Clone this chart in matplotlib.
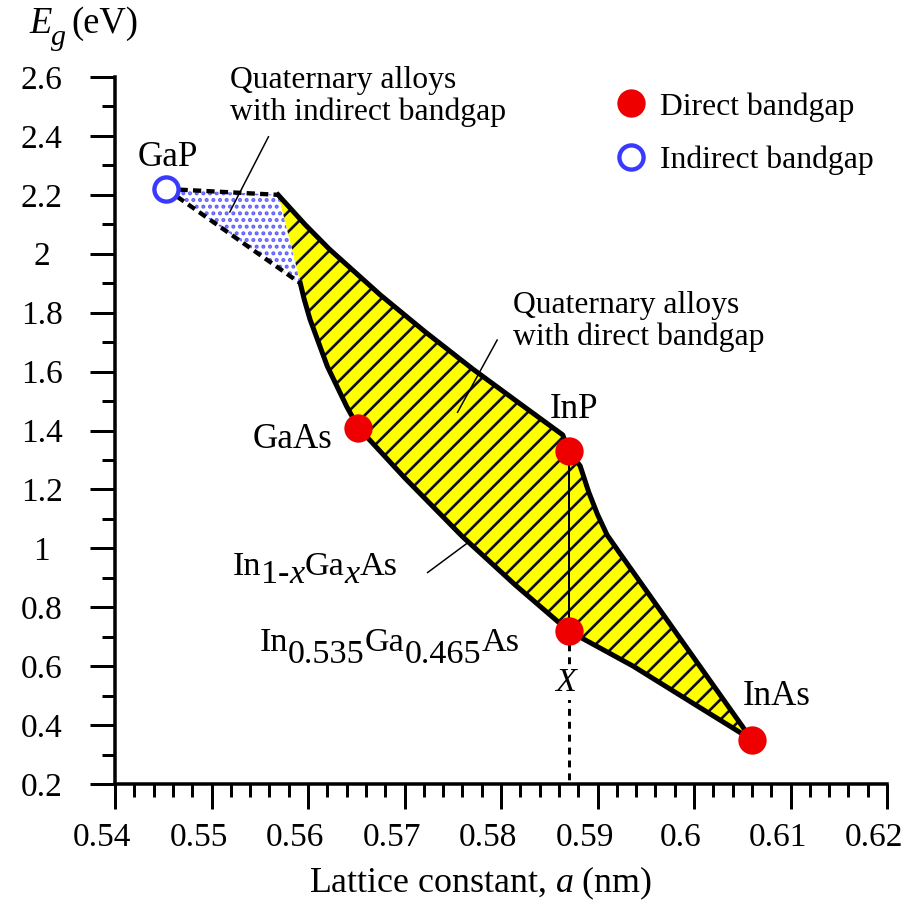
import numpy as np
import matplotlib.pyplot as plt
from matplotlib.ticker import MultipleLocator
from matplotlib.transforms import ScaledTranslation

plt.rcParams['font.family'] = 'Liberation Serif'
plt.rcParams['mathtext.fontset'] = 'custom'
plt.rcParams['mathtext.rm'] = 'Liberation Serif'
plt.rcParams['mathtext.it'] = 'Liberation Serif:italic'
plt.rcParams['hatch.linewidth'] = 1.6

# compounds: lattice constant a (nm), bandgap Eg (eV)
gap_a, gap_eg = [0.5453], [2.22]
direct_a = [0.5652, 0.5870, 0.5870, 0.6060]   # GaAs, InP, In0.535Ga0.465As, InAs
direct_eg = [1.41, 1.33, 0.72, 0.35]

# boundaries of the quaternary region
corner_a = [0.5569, 0.5592]          # where indirect part meets direct part
corner_eg = [2.20, 1.90]
upper_a = [0.5597, 0.5622, 0.5675, 0.5721, 0.5771, 0.5818, 0.5864]   # corner -> InP
upper_eg = [2.099, 2.016, 1.860, 1.736, 1.608, 1.495, 1.385]
right_a = [0.5882, 0.5891, 0.5900, 0.5910, 0.5923]   # InP -> InAs
right_eg = [1.280, 1.190, 1.115, 1.045, 0.984]
lower_a = [0.5996, 0.5937]   # InAs -> In0.535Ga0.465As
lower_eg = [0.480, 0.600]
ternary_a = [0.5815, 0.5760, 0.5700]  # In0.535Ga0.465As -> GaAs
ternary_eg = [0.875, 1.040, 1.240]
left_a = [0.5640, 0.5620, 0.5602, 0.5596]    # GaAs -> lower corner
left_eg = [1.482, 1.618, 1.778, 1.846]

# leader lines for the annotations
lead_indirect = ([0.5559, 0.5519], [2.397, 2.142])
lead_direct = ([0.5796, 0.5755], [1.707, 1.462])
lead_ternary = ([0.5724, 0.5766], [0.918, 1.020])

xticks = [0.54, 0.55, 0.56, 0.57, 0.58, 0.59, 0.60, 0.61, 0.62]
xlabels = ['0.54', '0.55', '0.56', '0.57', '0.58', '0.59', '0.6', '0.61', '0.62']
yticks = [0.2, 0.4, 0.6, 0.8, 1.0, 1.2, 1.4, 1.6, 1.8, 2.0, 2.2, 2.4, 2.6]
ylabels = ['0.2', '0.4', '0.6', '0.8', '1', '1.2', '1.4', '1.6', '1.8', '2', '2.2', '2.4', '2.6']

red = '#ee0000'
blue = '#3a3aff'

fig = plt.figure(figsize=(7.6, 7.575), dpi=120)
ax = fig.add_axes([0.1261, 0.1375, 0.8465, 0.7778])


def chain(x, y, pieces, size, transform=None):
    # text pieces side by side; dy (points) lowers a piece like a subscript
    s0, dy0, st0 = pieces[0][:3]
    prev = ax.text(x, y, s0, fontsize=size, style=st0, ha='left', va='baseline',
                   transform=transform if transform is not None else ax.transData)
    for p in pieces[1:]:
        s, dy, st = p[:3]
        sz = p[3] if len(p) > 3 else size
        dx = 3 if s.startswith('(') else 0
        prev = ax.annotate(s, xy=(1, 0), xycoords=prev, xytext=(dx, dy - dy0),
                           textcoords='offset points', fontsize=sz, style=st,
                           ha='left', va='bottom')
        dy0 = dy


# outline of the direct-gap region (open path, closed by the straight corner edge)
bd_a = ([corner_a[0]] + upper_a + [direct_a[1]] + right_a + [direct_a[3]]
        + lower_a + [direct_a[2]] + ternary_a + [direct_a[0]] + left_a + [corner_a[1]])
bd_eg = ([corner_eg[0]] + upper_eg + [direct_eg[1]] + right_eg + [direct_eg[3]]
         + lower_eg + [direct_eg[2]] + ternary_eg + [direct_eg[0]] + left_eg + [corner_eg[1]])

ax.fill(bd_a, bd_eg, facecolor='#ffff00', edgecolor='#111111', hatch='//', linewidth=0, zorder=1)
ax.plot(bd_a, bd_eg, color='black', lw=3, solid_joinstyle='round', zorder=3)

# indirect-gap triangle
tri_a = [gap_a[0], corner_a[0], corner_a[1]]
tri_eg = [gap_eg[0], corner_eg[0], corner_eg[1]]
ax.fill(tri_a, tri_eg, facecolor='white', edgecolor='#6060ff', hatch='...', linewidth=0, zorder=1)
for i in range(2):
    ax.plot([gap_a[0], corner_a[i]], [gap_eg[0], corner_eg[i]], color='black',
            lw=2.6, linestyle=(0, (1.9, 1.2)), zorder=3)

# lattice matched line and dashed drop to the axis
ax.plot([direct_a[1], direct_a[2]], [direct_eg[1], direct_eg[2]], color='black', lw=1.2, zorder=3)
ax.plot([direct_a[2], direct_a[2]], [direct_eg[2], 0.2], color='black', lw=1.8,
        linestyle=(0, (2.3, 2)), zorder=2, clip_on=False)

for la, le in [lead_indirect, lead_direct, lead_ternary]:
    ax.plot(la, le, color='black', lw=0.9, zorder=4)

ax.plot(direct_a, direct_eg, 'o', ls='none', ms=17, color=red, mec='none',
        zorder=5, label='Direct bandgap')
ax.plot(gap_a, gap_eg, 'o', ls='none', ms=14.5, mfc='white', mec=blue, mew=2.6,
        zorder=5, label='Indirect bandgap')

fs = 19
cs = 21
ax.text(0.5455, 2.326, 'GaP', fontsize=cs, ha='center', va='center')
ax.text(0.5625, 1.37, 'GaAs', fontsize=cs, ha='right', va='center')
ax.text(0.5876, 1.472, 'InP', fontsize=cs, ha='center', va='center')
ax.text(0.6086, 0.496, 'InAs', fontsize=cs, ha='center', va='center')
chain(0.5550, 0.652, [('In', 0, 'normal'), ('0.535', -7, 'normal'), ('Ga', 0, 'normal'),
                      ('0.465', -7, 'normal'), ('As', 0, 'normal')], 20.5)
chain(0.5522, 0.911, [('In', 0, 'normal'), ('1-', -4.8, 'normal'), ('x', -4.8, 'italic'),
                      ('Ga', 0, 'normal'), ('x', -4.8, 'italic'), ('As', 0, 'normal')], 20.5)
ax.text(0.5867, 0.543, 'X', fontsize=20.5, style='italic', ha='center', va='center',
        bbox=dict(facecolor='white', edgecolor='none', pad=1), zorder=4)
ax.text(0.5519, 2.533, 'Quaternary alloys\nwith indirect bandgap', fontsize=fs,
        ha='left', va='center', linespacing=1.1)
ax.text(0.5812, 1.771, 'Quaternary alloys\nwith direct bandgap', fontsize=fs,
        ha='left', va='center', linespacing=1.1)

ax.legend(loc='upper left', bbox_to_anchor=(0.611, 1.019), frameon=False, fontsize=fs,
          handlelength=1.0, handletextpad=0.42, borderpad=0.4, labelspacing=0.75)

ax.set_xlim(0.54, 0.62)
ax.set_ylim(0.2, 2.6)
ax.set_xticks(xticks)
ax.set_xticklabels(xlabels)
ax.set_yticks(yticks)
ax.set_yticklabels(ylabels)
ax.xaxis.set_minor_locator(MultipleLocator(0.002))
ax.yaxis.set_minor_locator(MultipleLocator(0.1))
ax.tick_params(which='both', direction='out', width=1.8, labelsize=20)
ax.tick_params(which='major', length=15)
ax.tick_params(which='minor', length=8)
ax.tick_params(axis='x', pad=8)
ax.tick_params(axis='y', pad=29)
plt.setp(ax.get_yticklabels(), ha='center')
shift = ScaledTranslation(-13 / 120, 0, fig.dpi_scale_trans)
for lbl in ax.get_xticklabels():
    lbl.set_transform(lbl.get_transform() + shift)

for s in ['top', 'right']:
    ax.spines[s].set_visible(False)
for s in ['left', 'bottom']:
    ax.spines[s].set_linewidth(2.1)

ax.text(0.474, -0.14, 'Lattice constant, $a$ (nm)', transform=ax.transAxes,
        fontsize=21.5, ha='center', va='center')
chain(29 / 912, 1 - 33 / 909, [('E', 0, 'italic'), ('g', -6, 'italic', 18), ('(eV)', 0, 'normal')],
      22, transform=fig.transFigure)

fig.savefig('out.png', dpi=120)
